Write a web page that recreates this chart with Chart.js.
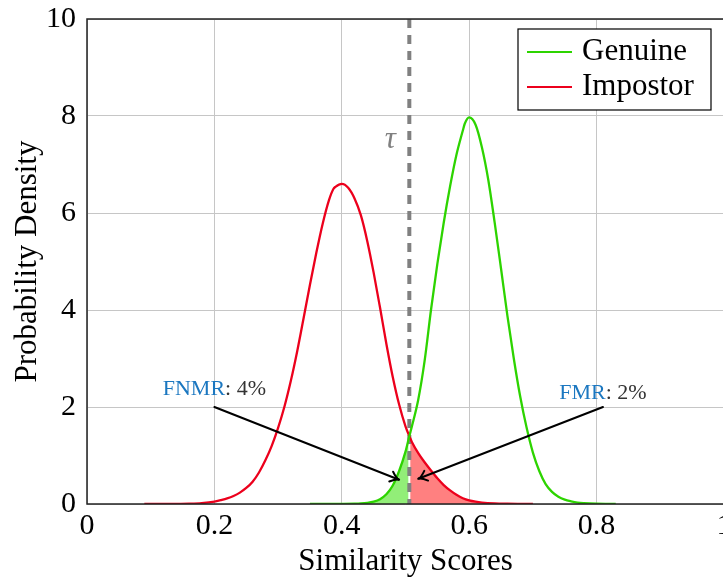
<!DOCTYPE html>
<html>
<head>
<meta charset="utf-8">
<script src="https://cdn.jsdelivr.net/npm/chart.js@4.4.1/dist/chart.umd.min.js"></script>
<style>
  html, body { margin: 0; padding: 0; overflow: hidden; background: #fff; }
  #wrap { width: 760px; height: 582px; }
</style>
</head>
<body>
<div id="wrap"><canvas id="chart" width="760" height="582"></canvas></div>
<script>
// values
const genuineX = [0.35, 0.36, 0.38, 0.40, 0.42, 0.43, 0.44, 0.45, 0.46, 0.47, 0.48, 0.49, 0.50, 0.506, 0.51, 0.52, 0.53, 0.54, 0.55, 0.56, 0.57, 0.58, 0.59, 0.593, 0.60, 0.61, 0.62, 0.63, 0.64, 0.65, 0.66, 0.67, 0.68, 0.69, 0.70, 0.71, 0.72, 0.73, 0.74, 0.75, 0.76, 0.77, 0.78, 0.80, 0.83];
const genuineY = [0, 0, 0.001, 0.002, 0.006, 0.012, 0.025, 0.05, 0.1, 0.2, 0.38, 0.68, 1.08, 1.4, 1.6, 2.15, 2.95, 4.0, 4.95, 5.8, 6.55, 7.2, 7.7, 7.84, 7.97, 7.82, 7.35, 6.68, 5.8, 4.85, 3.88, 3.0, 2.22, 1.58, 1.06, 0.68, 0.41, 0.25, 0.15, 0.09, 0.055, 0.03, 0.018, 0.006, 0];

const impostorX = [0.09, 0.10, 0.12, 0.14, 0.16, 0.18, 0.20, 0.21, 0.22, 0.23, 0.24, 0.25, 0.26, 0.27, 0.28, 0.29, 0.30, 0.31, 0.32, 0.33, 0.34, 0.35, 0.36, 0.37, 0.38, 0.387, 0.39, 0.40, 0.41, 0.42, 0.43, 0.44, 0.45, 0.46, 0.47, 0.48, 0.49, 0.50, 0.506, 0.51, 0.52, 0.53, 0.54, 0.55, 0.56, 0.57, 0.58, 0.59, 0.60, 0.61, 0.62, 0.64, 0.66, 0.68, 0.70];
const impostorY = [0, 0, 0.001, 0.003, 0.008, 0.02, 0.05, 0.08, 0.115, 0.165, 0.235, 0.33, 0.46, 0.65, 0.9, 1.2, 1.57, 2.01, 2.54, 3.15, 3.83, 4.52, 5.18, 5.78, 6.27, 6.5, 6.54, 6.6, 6.52, 6.3, 5.95, 5.42, 4.77, 4.05, 3.3, 2.62, 2.05, 1.6, 1.4, 1.28, 1.05, 0.86, 0.69, 0.53, 0.39, 0.28, 0.19, 0.12, 0.075, 0.048, 0.03, 0.012, 0.005, 0.002, 0];

const tau = 0.506;
const tauCross = 1.4;

const xTickLabels = ["0", "0.2", "0.4", "0.6", "0.8", "1"];
const yTickLabels = ["0", "2", "4", "6", "8", "10"];

const fnmrArrow = [0.2, 2, 0.49, 0.5];
const fmrArrow = [0.81, 2, 0.52, 0.52];
const fnmrText = ["FNMR", ": 4%"];
const fmrText = ["FMR", ": 2%"];
const tauLabel = [0.476, 7.5];

const GREEN = "rgb(45,212,0)";
const RED = "rgb(236,0,28)";
const FONT = "'Liberation Serif', 'Times New Roman', serif";

const genuine = genuineX.map((x, i) => ({ x: x, y: genuineY[i] }));
const impostor = impostorX.map((x, i) => ({ x: x, y: impostorY[i] }));

function arrow(ctx, x1, y1, x2, y2) {
    ctx.beginPath();
    ctx.moveTo(x1, y1);
    ctx.lineTo(x2, y2);
    ctx.stroke();
    const a = Math.atan2(y2 - y1, x2 - x1);
    const len = 10;
    ctx.beginPath();
    ctx.moveTo(x2 - len * Math.cos(a - 0.55), y2 - len * Math.sin(a - 0.55));
    ctx.quadraticCurveTo(x2 - 3 * Math.cos(a), y2 - 3 * Math.sin(a), x2, y2);
    ctx.quadraticCurveTo(x2 - 3 * Math.cos(a), y2 - 3 * Math.sin(a), x2 - len * Math.cos(a + 0.55), y2 - len * Math.sin(a + 0.55));
    ctx.stroke();
}

function label(ctx, parts, cx, baseline) {
    ctx.font = "22px " + FONT;
    ctx.textBaseline = "alphabetic";
    ctx.textAlign = "left";
    const w0 = ctx.measureText(parts[0]).width;
    const w1 = ctx.measureText(parts[1]).width;
    let x = cx - (w0 + w1) / 2;
    ctx.fillStyle = "#1b77c0";
    ctx.fillText(parts[0], x, baseline);
    ctx.fillStyle = "#333";
    ctx.fillText(parts[1], x + w0, baseline);
}

const extras = {
    id: "extras",
    afterDraw(chart) {
        const ctx = chart.ctx;
        const xs = chart.scales.x, ys = chart.scales.y;
        const area = chart.chartArea;
        ctx.save();

        // axis box
        ctx.strokeStyle = "#222";
        ctx.lineWidth = 1.5;
        ctx.strokeRect(area.left, area.top, area.right - area.left, area.bottom - area.top);

        // tau label
        ctx.fillStyle = "#808080";
        ctx.font = "italic 31px " + FONT;
        ctx.textAlign = "center";
        ctx.textBaseline = "middle";
        ctx.fillText("τ", xs.getPixelForValue(tauLabel[0]), ys.getPixelForValue(tauLabel[1]));

        // arrows + labels
        ctx.strokeStyle = "#000";
        ctx.lineWidth = 2;
        ctx.lineCap = "round";
        [fnmrArrow, fmrArrow].forEach(a => {
            arrow(ctx, xs.getPixelForValue(a[0]), ys.getPixelForValue(a[1]),
                       xs.getPixelForValue(a[2]), ys.getPixelForValue(a[3]));
        });
        label(ctx, fnmrText, xs.getPixelForValue(fnmrArrow[0]), ys.getPixelForValue(fnmrArrow[1]) - 12);
        label(ctx, fmrText, xs.getPixelForValue(fmrArrow[0]), ys.getPixelForValue(fmrArrow[1]) - 8);

        // legend box
        const bw = 193, bh = 81;
        const bx = area.right - 13 - bw, by = area.top + 10;
        ctx.fillStyle = "#fff";
        ctx.fillRect(bx, by, bw, bh);
        ctx.strokeStyle = "#000";
        ctx.lineWidth = 1.2;
        ctx.strokeRect(bx, by, bw, bh);
        const items = [chart.data.datasets[0], chart.data.datasets[1]];
        items.forEach((ds, i) => {
            const ly = by + 23 + i * 35;
            ctx.strokeStyle = ds.borderColor;
            ctx.lineWidth = 2.2;
            ctx.lineCap = "butt";
            ctx.beginPath();
            ctx.moveTo(bx + 9, ly);
            ctx.lineTo(bx + 54, ly);
            ctx.stroke();
            ctx.fillStyle = "#000";
            ctx.font = "31px " + FONT;
            ctx.textAlign = "left";
            ctx.textBaseline = "middle";
            ctx.fillText(ds.label, bx + 64, ly);
        });
        ctx.restore();
    }
};

function noPad(s) {
    s.paddingTop = 0;
    s.paddingBottom = 0;
    s.paddingLeft = 0;
    s.paddingRight = 0;
}

new Chart(document.getElementById("chart"), {
    type: "line",
    data: {
        datasets: [
            { label: "Genuine", data: genuine, borderColor: GREEN, borderWidth: 2.3, pointRadius: 0, cubicInterpolationMode: "monotone", fill: false, order: 1 },
            { label: "Impostor", data: impostor, borderColor: RED, borderWidth: 2.3, pointRadius: 0, cubicInterpolationMode: "monotone", fill: false, order: 1 },
            { label: "tau", data: [{ x: tau, y: 10 }, { x: tau, y: 0 }], borderColor: "rgb(128,128,128)", borderWidth: 4, borderDash: [9, 7], pointRadius: 0, fill: false, order: 2 },
            { label: "gap", data: [{ x: tau, y: 0 }, { x: tau, y: tauCross }], borderColor: "#fff", borderWidth: 2, pointRadius: 0, fill: false, order: 3 },
            { label: "fnmr", data: genuine.filter(p => p.x <= tau), borderWidth: 0, pointRadius: 0, cubicInterpolationMode: "monotone", fill: "origin", backgroundColor: "rgb(146,238,120)", order: 4 },
            { label: "fmr", data: impostor.filter(p => p.x >= tau), borderWidth: 0, pointRadius: 0, cubicInterpolationMode: "monotone", fill: "origin", backgroundColor: "rgb(255,128,128)", order: 4 }
        ]
    },
    options: {
        responsive: false,
        animation: false,
        devicePixelRatio: 1,
        layout: { padding: { left: 0, top: 19, right: 36, bottom: 0 } },
        plugins: { legend: { display: false }, tooltip: { enabled: false } },
        scales: {
            x: {
                type: "linear", min: 0, max: 1,
                ticks: { stepSize: 0.2, color: "#000", font: { family: FONT, size: 30 }, padding: 4, maxRotation: 0,
                         callback: (v, i) => xTickLabels[i] },
                grid: { color: "#c6c6c6", lineWidth: 1, drawTicks: false },
                border: { display: false },
                title: { display: true, text: "Similarity Scores", color: "#000", font: { family: FONT, size: 31 }, padding: { top: 0, bottom: 2 } },
                afterFit: s => { s.height = 78; noPad(s); }
            },
            y: {
                min: 0, max: 10,
                ticks: { stepSize: 2, color: "#000", font: { family: FONT, size: 30 }, padding: 11,
                         callback: (v, i) => yTickLabels[i] },
                grid: { color: "#c6c6c6", lineWidth: 1, drawTicks: false },
                border: { display: false },
                title: { display: true, text: "Probability Density", color: "#000", font: { family: FONT, size: 31 }, padding: { top: 9, bottom: 0 } },
                afterFit: s => { s.width = 87; noPad(s); }
            }
        }
    },
    plugins: [extras]
});
</script>
</body>
</html>
